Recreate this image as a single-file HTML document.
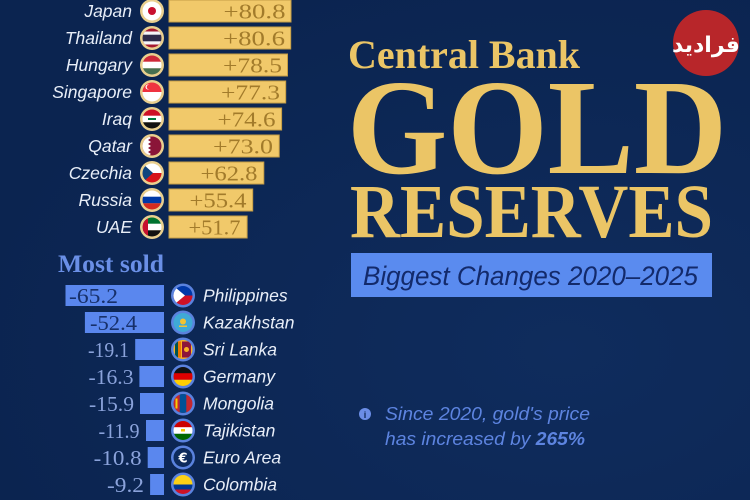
<!DOCTYPE html>
<html><head><meta charset="utf-8"><style>
html,body{margin:0;padding:0;background:#0c2653;}
svg{display:block;}
</style></head><body>
<svg width="750" height="500" viewBox="0 0 750 500" xmlns="http://www.w3.org/2000/svg">
<defs>
<radialGradient id="bg" cx="0.75" cy="0.7" r="0.8">
<stop offset="0" stop-color="#0f2c5d"/><stop offset="1" stop-color="#0b2450"/>
</radialGradient>
<clipPath id="c"><circle cx="0" cy="0" r="9.5"/></clipPath>
</defs>
<rect width="750" height="500" fill="url(#bg)"/>

<!-- Gold section -->
<g font-family="'Liberation Sans',sans-serif" font-style="italic" font-size="17.5" fill="#e8eef8" text-anchor="end">
<text x="132" y="17">Japan</text>
<text x="132" y="44">Thailand</text>
<text x="132" y="71">Hungary</text>
<text x="132" y="98">Singapore</text>
<text x="132" y="125">Iraq</text>
<text x="132" y="152">Qatar</text>
<text x="132" y="179">Czechia</text>
<text x="132" y="206">Russia</text>
<text x="132" y="233">UAE</text>
</g>
<g fill="#f1c96a" stroke="#c59d45" stroke-width="1">
<rect x="169" y="0" width="122" height="22"/>
<rect x="169" y="27" width="121.7" height="22"/>
<rect x="169" y="54" width="118.5" height="22"/>
<rect x="169" y="81" width="116.7" height="22"/>
<rect x="169" y="108" width="112.6" height="22"/>
<rect x="169" y="135" width="110.2" height="22"/>
<rect x="169" y="162" width="94.8" height="22"/>
<rect x="169" y="189" width="83.7" height="22"/>
<rect x="169" y="216" width="78.1" height="22"/>
</g>
<g font-family="'Liberation Serif',serif" font-size="21" fill="#a27b2b" text-anchor="end">
<text x="285.5" y="18.5" textLength="62" lengthAdjust="spacingAndGlyphs">+80.8</text>
<text x="285" y="45.5" textLength="62" lengthAdjust="spacingAndGlyphs">+80.6</text>
<text x="282" y="72.5" textLength="59" lengthAdjust="spacingAndGlyphs">+78.5</text>
<text x="280" y="99.5" textLength="59" lengthAdjust="spacingAndGlyphs">+77.3</text>
<text x="275.5" y="126.5" textLength="58" lengthAdjust="spacingAndGlyphs">+74.6</text>
<text x="273" y="153.5" textLength="60" lengthAdjust="spacingAndGlyphs">+73.0</text>
<text x="257.5" y="180.5" textLength="57" lengthAdjust="spacingAndGlyphs">+62.8</text>
<text x="246.5" y="207.5" textLength="57" lengthAdjust="spacingAndGlyphs">+55.4</text>
<text x="240.5" y="234.5" textLength="52" lengthAdjust="spacingAndGlyphs">+51.7</text>
</g>

<!-- gold flags -->
<g>
<g transform="translate(152,11)"><circle r="12" fill="#e9cf8e"/><g clip-path="url(#c)"><rect x="-10" y="-10" width="20" height="20" fill="#fff"/><circle r="4" fill="#c8102e"/></g></g>
<g transform="translate(152,38)"><circle r="12" fill="#e9cf8e"/><g clip-path="url(#c)"><rect x="-10" y="-10" width="20" height="20" fill="#a51931"/><rect x="-10" y="-6.5" width="20" height="13" fill="#f4f5f8"/><rect x="-10" y="-3.3" width="20" height="6.6" fill="#2d2a4a"/></g></g>
<g transform="translate(152,65)"><circle r="12" fill="#e9cf8e"/><g clip-path="url(#c)"><rect x="-10" y="-10" width="20" height="7" fill="#ce2939"/><rect x="-10" y="-3.3" width="20" height="6.6" fill="#fff"/><rect x="-10" y="3.3" width="20" height="7" fill="#477050"/></g></g>
<g transform="translate(152,92)"><circle r="12" fill="#e9cf8e"/><g clip-path="url(#c)"><rect x="-10" y="-10" width="20" height="10" fill="#ef3340"/><rect x="-10" y="0" width="20" height="10" fill="#fff"/><circle cx="-4" cy="-5" r="2.5" fill="#fff"/><circle cx="-3" cy="-5" r="2.3" fill="#ef3340"/></g></g>
<g transform="translate(152,119)"><circle r="12" fill="#e9cf8e"/><g clip-path="url(#c)"><rect x="-10" y="-10" width="20" height="7" fill="#ce1126"/><rect x="-10" y="-3.3" width="20" height="6.6" fill="#fff"/><rect x="-10" y="3.3" width="20" height="7" fill="#111"/><rect x="-4" y="-1" width="8" height="2" fill="#007a3d"/></g></g>
<g transform="translate(152,146)"><circle r="12" fill="#e9cf8e"/><g clip-path="url(#c)"><rect x="-10" y="-10" width="20" height="20" fill="#8a1538"/><polygon points="-10,-10 -4,-10 -1,-8 -4,-6 -1,-4 -4,-2 -1,0 -4,2 -1,4 -4,6 -1,8 -4,10 -10,10" fill="#fff"/></g></g>
<g transform="translate(152,173)"><circle r="12" fill="#e9cf8e"/><g clip-path="url(#c)"><rect x="-10" y="-10" width="20" height="10" fill="#fff"/><rect x="-10" y="0" width="20" height="10" fill="#d7141a"/><polygon points="-10,-10 1,0 -10,10" fill="#11457e"/></g></g>
<g transform="translate(152,200)"><circle r="12" fill="#e9cf8e"/><g clip-path="url(#c)"><rect x="-10" y="-10" width="20" height="7" fill="#fff"/><rect x="-10" y="-3.3" width="20" height="6.6" fill="#0039a6"/><rect x="-10" y="3.3" width="20" height="7" fill="#d52b1e"/></g></g>
<g transform="translate(152,227)"><circle r="12" fill="#e9cf8e"/><g clip-path="url(#c)"><rect x="-10" y="-10" width="20" height="7" fill="#00732f"/><rect x="-10" y="-3.3" width="20" height="6.6" fill="#fff"/><rect x="-10" y="3.3" width="20" height="7" fill="#111"/><rect x="-10" y="-10" width="6" height="20" fill="#c8102e"/></g></g>
</g>

<!-- Most sold -->
<text x="58" y="272" font-family="'Liberation Serif',serif" font-weight="bold" font-size="25.5" fill="#6a8fe6" textLength="106" lengthAdjust="spacingAndGlyphs">Most sold</text>
<g fill="#5a87ee">
<rect x="65.5" y="285" width="98.5" height="21"/>
<rect x="84.9" y="312" width="79.1" height="21"/>
<rect x="135.2" y="339" width="28.8" height="21"/>
<rect x="139.4" y="366" width="24.6" height="21"/>
<rect x="140" y="393" width="24" height="21"/>
<rect x="146" y="420" width="18" height="21"/>
<rect x="147.7" y="447" width="16.3" height="21"/>
<rect x="150.1" y="474" width="13.9" height="21"/>
</g>
<g font-family="'Liberation Serif',serif" font-size="21">
<text x="69" y="303" fill="#17306a" textLength="49" lengthAdjust="spacingAndGlyphs">-65.2</text>
<text x="90" y="330" fill="#17306a" textLength="47" lengthAdjust="spacingAndGlyphs">-52.4</text>
<g fill="#8aa2da" text-anchor="end">
<text x="129" y="357" textLength="41" lengthAdjust="spacingAndGlyphs">-19.1</text>
<text x="133.5" y="384" textLength="45" lengthAdjust="spacingAndGlyphs">-16.3</text>
<text x="134" y="411" textLength="45" lengthAdjust="spacingAndGlyphs">-15.9</text>
<text x="139.5" y="438" textLength="41" lengthAdjust="spacingAndGlyphs">-11.9</text>
<text x="141.7" y="465" textLength="48" lengthAdjust="spacingAndGlyphs">-10.8</text>
<text x="144" y="492" textLength="37" lengthAdjust="spacingAndGlyphs">-9.2</text>
</g>
</g>

<!-- blue flags -->
<g>
<g transform="translate(183,295.5)"><circle r="12" fill="#5a82de"/><g clip-path="url(#c)"><rect x="-10" y="-10" width="20" height="10" fill="#0038a8"/><rect x="-10" y="0" width="20" height="10" fill="#ce1126"/><polygon points="-10,-10 2,0 -10,10" fill="#fff"/></g></g>
<g transform="translate(183,322.5)"><circle r="12" fill="#5a82de"/><g clip-path="url(#c)"><rect x="-10" y="-10" width="20" height="20" fill="#3fa9d6"/><circle cx="0" cy="-1" r="3" fill="#f2c331"/><rect x="-4" y="3" width="8" height="1.5" fill="#f2c331"/></g></g>
<g transform="translate(183,349.5)"><circle r="12" fill="#5a82de"/><g clip-path="url(#c)"><rect x="-10" y="-10" width="20" height="20" fill="#f9b223"/><rect x="-8" y="-8" width="3" height="16" fill="#00534e"/><rect x="-5" y="-8" width="3" height="16" fill="#eb7400"/><rect x="-1" y="-8" width="9" height="16" fill="#8d153a"/><circle cx="3.5" cy="0" r="2.5" fill="#f9b223"/></g></g>
<g transform="translate(183,376.5)"><circle r="12" fill="#5a82de"/><g clip-path="url(#c)"><rect x="-10" y="-10" width="20" height="7" fill="#111"/><rect x="-10" y="-3.3" width="20" height="6.6" fill="#dd0000"/><rect x="-10" y="3.3" width="20" height="7" fill="#ffce00"/></g></g>
<g transform="translate(183,403.5)"><circle r="12" fill="#5a82de"/><g clip-path="url(#c)"><rect x="-10" y="-10" width="20" height="20" fill="#c4272f"/><rect x="-3.3" y="-10" width="6.6" height="20" fill="#015197"/><rect x="-7.5" y="-5" width="2" height="10" fill="#f9cf02"/></g></g>
<g transform="translate(183,430.5)"><circle r="12" fill="#5a82de"/><g clip-path="url(#c)"><rect x="-10" y="-10" width="20" height="7" fill="#cc0000"/><rect x="-10" y="-3.3" width="20" height="6.6" fill="#fff"/><rect x="-10" y="3.3" width="20" height="7" fill="#006600"/><rect x="-2" y="-1.5" width="4" height="2.5" fill="#f8c300"/></g></g>
<g transform="translate(183,457.5)"><circle r="12" fill="#5a82de"/><circle r="9.5" fill="#0d2a5c"/><text x="0" y="5" text-anchor="middle" font-family="'DejaVu Sans',sans-serif" font-weight="bold" font-size="13" fill="#fff">€</text></g>
<g transform="translate(183,484.5)"><circle r="12" fill="#5a82de"/><g clip-path="url(#c)"><rect x="-10" y="-10" width="20" height="10" fill="#fcd116"/><rect x="-10" y="0" width="20" height="5" fill="#003893"/><rect x="-10" y="5" width="20" height="5" fill="#ce1126"/></g></g>
</g>

<g font-family="'Liberation Sans',sans-serif" font-style="italic" font-size="17.5" fill="#e8eef8">
<text x="203" y="301.5">Philippines</text>
<text x="203" y="328.5">Kazakhstan</text>
<text x="203" y="355.5">Sri Lanka</text>
<text x="203" y="382.5">Germany</text>
<text x="203" y="409.5">Mongolia</text>
<text x="203" y="436.5">Tajikistan</text>
<text x="203" y="463.5">Euro Area</text>
<text x="203" y="490.5">Colombia</text>
</g>

<!-- Title -->
<g font-family="'Liberation Serif',serif" font-weight="bold" fill="#ebc566">
<text x="348" y="68" font-size="40" textLength="232" lengthAdjust="spacingAndGlyphs">Central Bank</text>
<text x="347" y="173" font-size="136" textLength="380" lengthAdjust="spacingAndGlyphs">GOLD</text>
<text x="350" y="237" font-size="76" textLength="363" lengthAdjust="spacingAndGlyphs">RESERVES</text>
</g>
<rect x="351" y="253" width="361" height="44" fill="#5a8bef"/>
<text x="363" y="285" font-family="'Liberation Sans',sans-serif" font-style="italic" font-size="27" fill="#132a6b" textLength="335" lengthAdjust="spacingAndGlyphs">Biggest Changes 2020–2025</text>

<!-- Logo -->
<circle cx="706" cy="43" r="33" fill="#b8262a"/>
<text x="706" y="52" text-anchor="middle" font-family="'DejaVu Sans',sans-serif" font-weight="bold" font-size="22" fill="#ffffff">فرادید</text>

<!-- Info -->
<circle cx="365" cy="414" r="6" fill="#6b8de6"/>
<text x="365" y="418" text-anchor="middle" font-family="'Liberation Sans',sans-serif" font-weight="bold" font-size="9" fill="#0c2653">i</text>
<g font-family="'Liberation Sans',sans-serif" font-style="italic" font-size="18.5" fill="#5d84e0">
<text x="385" y="420" textLength="205" lengthAdjust="spacingAndGlyphs">Since 2020, gold's price</text>
<text x="385" y="445" textLength="200" lengthAdjust="spacingAndGlyphs">has increased by <tspan font-weight="bold">265%</tspan></text>
</g>
</svg>
</body></html>
